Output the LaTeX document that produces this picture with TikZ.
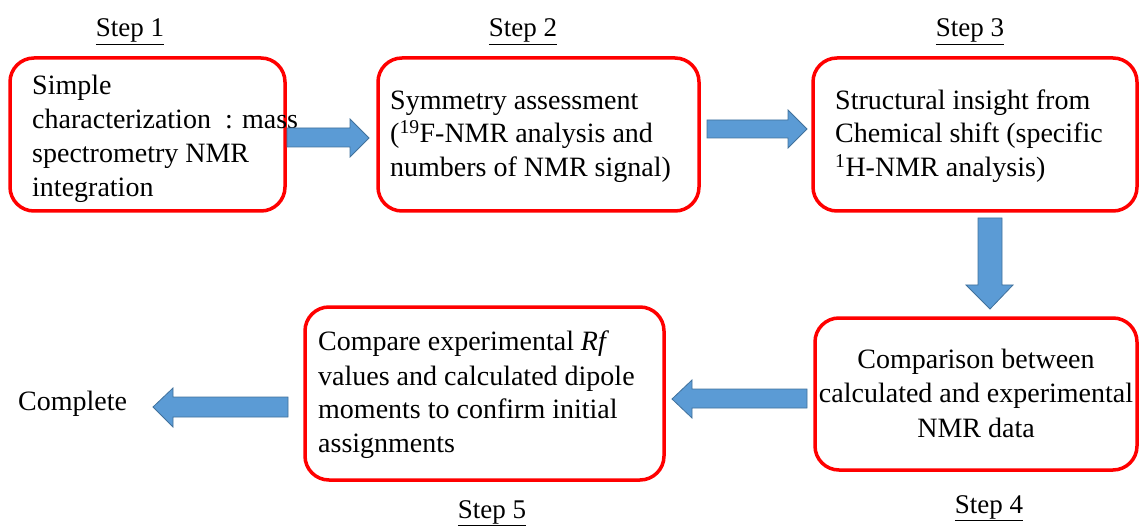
\documentclass[tikz,border=0pt]{standalone}
\usepackage{fontspec}
\setmainfont{Liberation Serif}
\definecolor{boxred}{HTML}{FF0000}
\definecolor{arrowblue}{HTML}{5B9BD5}
\definecolor{arrowedge}{HTML}{41719C}
\begin{document}
\begin{tikzpicture}[x=1pt,y=-1pt,
  box/.style={draw=boxred, line width=3.5pt, rounded corners=24pt, inner sep=0pt},
  txt/.style={anchor=base west, inner sep=0pt, font=\fontsize{28}{34}\selectfont},
  ctxt/.style={anchor=base, inner sep=0pt, font=\fontsize{28}{34}\selectfont},
  steplbl/.style={anchor=base, inner sep=0pt, font=\fontsize{27}{32}\selectfont},
  blockarrow/.style={fill=arrowblue, draw=arrowedge, line width=0.8pt}]
\useasboundingbox (0,0) rectangle (1140,529);
% boxes
\node[box, minimum width=275pt, minimum height=153pt] (b1) at (147.5,134.5) {};
\node[box, minimum width=321pt, minimum height=153pt] (b2) at (538.5,134.5) {};
\node[box, minimum width=324pt, minimum height=153pt] (b3) at (975,134.5) {};
\node[box, minimum width=322pt, minimum height=152pt] (b4) at (976,394) {};
\node[box, minimum width=359pt, minimum height=173pt] (b5) at (484.5,393.5) {};
% step labels
\node[steplbl] (s1) at (130,37) {\underline{Step 1}};
\node[steplbl] (s2) at (523,37) {\underline{Step 2}};
\node[steplbl] (s3) at (970,37) {\underline{Step 3}};
\node[steplbl] (s4) at (989,513) {\underline{Step 4}};
\node[steplbl] (s5) at (492,518) {\underline{Step 5}};
% box 1 text
\node[txt] (t11) at (32,95) {Simple};
\node[txt] (t12) at (32,129) {characterization\ \ : mass};
\node[txt] (t13) at (32,163) {spectrometry NMR};
\node[txt] (t14) at (32,197) {integration};
% box 2 text
\node[txt] (t21) at (390,110) {Symmetry assessment};
\node[txt] (t22) at (390,143) {(\textsuperscript{19}F-NMR analysis and};
\node[txt] (t23) at (390,177) {numbers of NMR signal)};
% box 3 text
\node[txt] (t31) at (835,110) {Structural insight from};
\node[txt] (t32) at (835,143) {Chemical shift (specific};
\node[txt] (t33) at (835,177) {\textsuperscript{1}H-NMR analysis)};
% box 4 text
\node[ctxt] (t41) at (976,368) {Comparison between};
\node[ctxt] (t42) at (976,402) {calculated and experimental};
\node[ctxt] (t43) at (976,437) {NMR data};
% box 5 text
\node[txt] (t51) at (318,350) {Compare experimental \textit{Rf}};
\node[txt] (t52) at (318,385) {values and calculated dipole};
\node[txt] (t53) at (318,418) {moments to confirm initial};
\node[txt] (t54) at (318,452) {assignments};
% complete
\node[txt] (done) at (18,410) {Complete};
% block arrows
\draw[blockarrow] (287,128) -- (350,128) -- (350,119) -- (369,138) -- (350,157) -- (350,147) -- (287,147) -- cycle;
\draw[blockarrow] (707,120) -- (788,120) -- (788,110) -- (807,129) -- (788,148) -- (788,138) -- (707,138) -- cycle;
\draw[blockarrow] (978,218) -- (1002,218) -- (1002,285) -- (1013,285) -- (990,309) -- (966,285) -- (978,285) -- cycle;
\draw[blockarrow] (807,389) -- (692,389) -- (692,380) -- (672,399) -- (692,418) -- (692,408) -- (807,408) -- cycle;
\draw[blockarrow] (288,397) -- (173,397) -- (173,388) -- (153,407) -- (173,427) -- (173,417) -- (288,417) -- cycle;
\end{tikzpicture}
\end{document}
